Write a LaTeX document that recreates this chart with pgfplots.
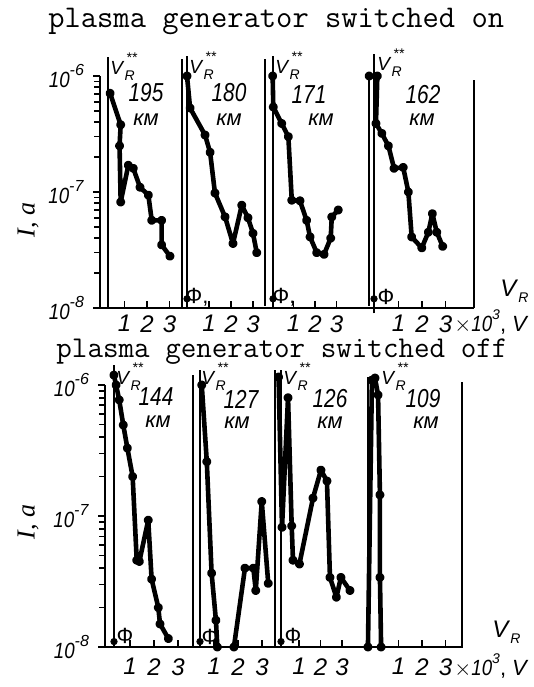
\documentclass[border=0pt]{standalone}
\usepackage{pgfplots}
\pgfplotsset{compat=1.18}
\usepackage{graphicx}
\usepackage{fontspec}
\setmainfont{Liberation Sans}
\newfontfamily\seriff{Liberation Serif}
\newcommand{\ytl}[1]{\scalebox{0.85}[1]{\textit{10}}\raisebox{1.0ex}{\footnotesize\textit{#1}}}
\newcommand{\VRss}{\textit{V}\raisebox{-0.6ex}{\scriptsize\textit{R}}\hspace{-0.45em}\raisebox{1.2ex}{\scriptsize\textit{**}}}
\tikzset{
  mycurve/.style={black, line width=2.3pt, mark=*, mark size=1.1pt, line join=round, line cap=round},
  myvline/.style={black, line width=1.2pt},
  myphidot/.style={black, only marks, mark=*, mark size=1.6pt},
  mytick/.style={black, line width=0.8pt},
}
\begin{document}
\begin{tikzpicture}
\useasboundingbox (0,0) rectangle (267pt,343.5pt);
% ---------------- top row: plasma generator switched on ----------------
\begin{axis}[scale only axis, ymode=log,
    axis x line=bottom, axis y line=left,
    axis line style={-, line width=1.1pt},
    clip=false, tick align=outside,
    major tick length=3.5pt,
    tick style={black, line width=0.8pt},
    xtick style={yshift=3.5pt},
    ytick={1e-8,1e-7,1e-6},
    yticklabels={\ytl{-8},\ytl{-7},\ytl{-6}},
    yticklabel style={font=\fontsize{11}{11}\selectfont, xshift=-1pt},
    xticklabels={1,2,3,1,2,3,1,2,3,1,2,3},
    xticklabel style={font=\fontsize{12}{12}\selectfont\itshape, inner sep=1pt, yshift=1pt},
  at={(50pt,189.5pt)}, anchor=south west,
  width=187pt, height=116pt, xmin=100, xmax=474, ymin=1e-8, ymax=1e-6,
  xtick={124.5,147,169.5, 209,231,253, 293.5,315,336.5, 398.5,422,445.5}]
% y-axis tick marks (major and minor), drawn at the axis line x=100
\pgfplotsinvokeforeach{1e-7,1e-6}{\addplot[mytick] coordinates {(93,#1) (100,#1)};}
\pgfplotsinvokeforeach{2e-8,3e-8,4e-8,5e-8,6e-8,7e-8,8e-8,9e-8,2e-7,3e-7,4e-7,5e-7,6e-7,7e-7,8e-7,9e-7}{\addplot[mytick] coordinates {(96,#1) (100,#1)};}
\addplot[myvline] coordinates {(108,1e-8) (108,1.46e-6)};
\addplot[myvline] coordinates {(182,1e-8) (182,1.4e-6)};
\addplot[myvline] coordinates {(187,1e-8) (187,1.5e-6)};
\addplot[myvline] coordinates {(265,1.05e-8) (265,1.4e-6)};
\addplot[myvline] coordinates {(273,1e-8) (273,1.5e-6)};
\addplot[myvline] coordinates {(369,1.05e-8) (369,1.0e-6)};
\addplot[myvline] coordinates {(374,0.9e-8) (374,1.55e-6)};
\addplot[myvline] coordinates {(474,1e-8) (474,9.2e-7)};
\addplot[myphidot] coordinates {(187,1.2e-8) (273,1.2e-8) (374,1.2e-8)};
% 195 km
\addplot[mycurve] table[x expr={102+22.5*\thisrow{V}}, y=I] {
V I
0.36 7.1e-7
0.83 3.8e-7
0.78 2.5e-7
0.83 8.2e-8
1.17 1.7e-7
1.39 1.6e-7
1.69 1.1e-7
2.06 9.4e-8
2.21 5.7e-8
2.65 5.7e-8
2.65 3.5e-8
3.02 2.8e-8
};
% 180 km
\addplot[mycurve] table[x expr={187+22*\thisrow{V}}, y=I] {
V I
0.00 1.0e-6
0.14 5.3e-7
0.82 3.1e-7
1.05 2.2e-7
1.27 9.8e-8
1.73 6.1e-8
2.09 3.6e-8
2.49 7.7e-8
2.77 6.0e-8
3.00 4.4e-8
3.17 3.0e-8
};
% 171 km
\addplot[mycurve] table[x expr={272+21.5*\thisrow{V}}, y=I] {
V I
0.03 1.0e-6
0.06 5.4e-7
0.45 3.9e-7
0.76 3.0e-7
0.92 8.5e-8
1.30 8.4e-8
1.61 5.7e-8
1.77 4.1e-8
2.08 3.0e-8
2.42 2.9e-8
2.73 4.0e-8
2.78 6.1e-8
3.08 7.0e-8
};
% 162 km
\addplot[mycurve] table[x expr={375+23.5*\thisrow{V}}, y=I] {
V I
-0.25 1.0e-6
0.10 1.0e-6
0.04 3.9e-7
0.29 3.2e-7
0.57 2.5e-7
0.81 1.6e-7
1.20 1.63e-7
1.42 1.0e-7
1.56 4.1e-8
1.99 3.3e-8
2.27 4.5e-8
2.44 6.5e-8
2.63 4.5e-8
2.88 3.4e-8
};
\end{axis}
% ---------------- bottom row: plasma generator switched off ----------------
\begin{axis}[scale only axis, ymode=log,
    axis x line=bottom, axis y line=left,
    axis line style={-, line width=1.1pt},
    clip=false, tick align=outside,
    major tick length=3.5pt,
    tick style={black, line width=0.8pt},
    xtick style={yshift=3.5pt},
    ytick={1e-8,1e-7,1e-6},
    yticklabels={\ytl{-8},\ytl{-7},\ytl{-6}},
    yticklabel style={font=\fontsize{11}{11}\selectfont, xshift=-1pt},
    xticklabels={1,2,3,1,2,3,1,2,3,1,2,3},
    xticklabel style={font=\fontsize{12}{12}\selectfont\itshape, inner sep=1pt, yshift=-1pt},
  at={(52.5pt,20pt)}, anchor=south west,
  width=179pt, height=131pt, xmin=105, xmax=463, ymin=1e-8, ymax=1e-6,
  xtick={130,154,178, 214,238,262, 299,320.5,342, 398.5,422,445.5}]
\pgfplotsinvokeforeach{1e-7,1e-6}{\addplot[mytick] coordinates {(98,#1) (105,#1)};}
\pgfplotsinvokeforeach{2e-8,3e-8,4e-8,5e-8,6e-8,7e-8,8e-8,9e-8,2e-7,3e-7,4e-7,5e-7,6e-7,7e-7,8e-7,9e-7}{\addplot[mytick] coordinates {(101,#1) (105,#1)};}
\addplot[myvline] coordinates {(114,1e-8) (114,1.42e-6)};
\addplot[myvline] coordinates {(193,1e-8) (193,1.19e-6)};
\addplot[myvline] coordinates {(200,1e-8) (200,1.30e-6)};
\addplot[myvline] coordinates {(275,1e-8) (275,1.30e-6)};
\addplot[myvline] coordinates {(281,1e-8) (281,1.30e-6)};
\addplot[myvline] coordinates {(368,1e-8) (368,1.15e-6)};
\addplot[myvline] coordinates {(462,1e-8) (462,1.05e-6)};
\addplot[myphidot] coordinates {(114,1.1e-8) (200,1.1e-8) (281,1.1e-8) (114,1.19e-6)};
% 144 km
\addplot[mycurve] table[x expr={106+24*\thisrow{V}}, y=I] {
V I
0.33 1.19e-6
0.42 1.0e-6
0.55 7.7e-7
0.72 4.95e-7
0.89 3.3e-7
1.11 2.0e-7
1.28 4.6e-8
1.39 4.5e-8
1.76 9.3e-8
1.90 3.3e-8
2.18 2.0e-8
2.25 1.5e-8
2.60 1.16e-8
};
% 127 km
\addplot[mycurve] table[x expr={190+24*\thisrow{V}}, y=I] {
V I
0.49 1.0e-6
0.70 2.6e-7
0.90 3.66e-8
1.08 1.6e-8
1.14 1.0e-8
};
\addplot[mycurve] table[x expr={190+24*\thisrow{V}}, y=I] {
V I
1.83 1.0e-8
2.29 4.0e-8
2.64 4.0e-8
2.74 2.7e-8
2.99 1.29e-7
3.26 3.06e-8
};
% 126 km
\addplot[mycurve] table[x expr={277.5+21.5*\thisrow{V}}, y=I] {
V I
0.05 1.15e-6
0.21 8.2e-8
0.49 8.0e-7
0.66 8.4e-8
0.72 4.6e-8
1.02 4.3e-8
1.65 1.37e-7
2.02 2.24e-7
2.30 1.85e-7
2.44 3.4e-8
2.74 2.4e-8
2.95 3.4e-8
3.37 2.7e-8
};
% 109 km
\addplot[mycurve] table[x expr={375+23.5*\thisrow{V}}, y=I] {
V I
-0.30 1.0e-8
-0.13 1.09e-6
0.00 1.13e-6
0.13 8.4e-7
0.21 1.45e-7
0.21 3.4e-8
0.26 1.0e-8
};
\end{axis}
% ---------------- texts (pixel-based placement) ----------------
\begin{scope}[x=0.5pt, y=-0.5pt, shift={(0pt,343.5pt)}]
\node[anchor=base west, inner sep=0] at (48,28) {\ttfamily\addfontfeature{FakeBold=1.2}\fontsize{15.8}{16}\selectfont plasma generator switched on};
\node[anchor=base west, inner sep=0] at (56,358) {\ttfamily\addfontfeature{FakeBold=1.2}\fontsize{15.1}{16}\selectfont plasma generator switched off};
\node[rotate=90, inner sep=0] at (28,220) {\seriff\fontsize{13}{13}\selectfont\itshape I, a};
\node[rotate=90, inner sep=0] at (28,522) {\seriff\fontsize{13}{13}\selectfont\itshape I, a};
\tikzset{kml/.style={inner sep=0, font=\fontsize{13}{13}\selectfont\itshape}}
\node[kml] at (146,93) {\scalebox{0.8}[1]{195}};
\node[kml] at (146,120) {\fontsize{11}{11}\selectfont км};
\node[kml] at (229,93) {\scalebox{0.8}[1]{180}};
\node[kml] at (229,120) {\fontsize{11}{11}\selectfont км};
\node[kml] at (309,95) {\scalebox{0.8}[1]{171}};
\node[kml] at (321,120) {\fontsize{11}{11}\selectfont км};
\node[kml] at (423,95) {\scalebox{0.8}[1]{162}};
\node[kml] at (422,120) {\fontsize{11}{11}\selectfont км};
\node[kml] at (156,397) {\scalebox{0.8}[1]{144}};
\node[kml] at (158,422) {\fontsize{11}{11}\selectfont км};
\node[kml] at (241,399) {\scalebox{0.8}[1]{127}};
\node[kml] at (237,423) {\fontsize{11}{11}\selectfont км};
\node[kml] at (330,399) {\scalebox{0.8}[1]{126}};
\node[kml] at (330,423) {\fontsize{11}{11}\selectfont км};
\node[kml] at (423,399) {\scalebox{0.8}[1]{109}};
\node[kml] at (426,423) {\fontsize{11}{11}\selectfont км};
\tikzset{vrl/.style={inner sep=0, anchor=west, font=\fontsize{9.5}{9.5}\selectfont}}
\node[vrl] at (110,67) {\VRss};
\node[vrl] at (189,66) {\VRss};
\node[vrl] at (275,66) {\VRss};
\node[vrl] at (377,63) {\VRss};
\node[vrl] at (116,377) {\VRss};
\node[vrl] at (201,377) {\VRss};
\node[vrl] at (283,377) {\VRss};
\node[vrl] at (381,377) {\VRss};
\tikzset{phil/.style={inner sep=0, font=\fontsize{11}{11}\selectfont}}
\node[phil] at (197,297) {Ф,};
\node[phil] at (284,297) {Ф,};
\node[phil] at (386,297) {Ф};
\node[phil] at (125,636) {Ф};
\node[phil] at (210,637) {Ф};
\node[phil] at (293,636) {Ф};
\node[inner sep=0, anchor=west] at (500,291) {\fontsize{12}{12}\selectfont\textit{V}\raisebox{-0.5ex}{\scriptsize\textit{R}}};
\node[inner sep=0, anchor=west] at (492,632) {\fontsize{12}{12}\selectfont\textit{V}\raisebox{-0.5ex}{\scriptsize\textit{R}}};
\node[inner sep=0, anchor=west] at (454,322) {\fontsize{11}{11}\selectfont$\times$\scalebox{0.85}[1]{\textit{10}}\raisebox{1ex}{\scriptsize\textit{3}}, \textit{V}};
\node[inner sep=0, anchor=west] at (454,666) {\fontsize{11}{11}\selectfont$\times$\scalebox{0.85}[1]{\textit{10}}\raisebox{1ex}{\scriptsize\textit{3}}, \textit{V}};
\end{scope}
\end{tikzpicture}
\end{document}
